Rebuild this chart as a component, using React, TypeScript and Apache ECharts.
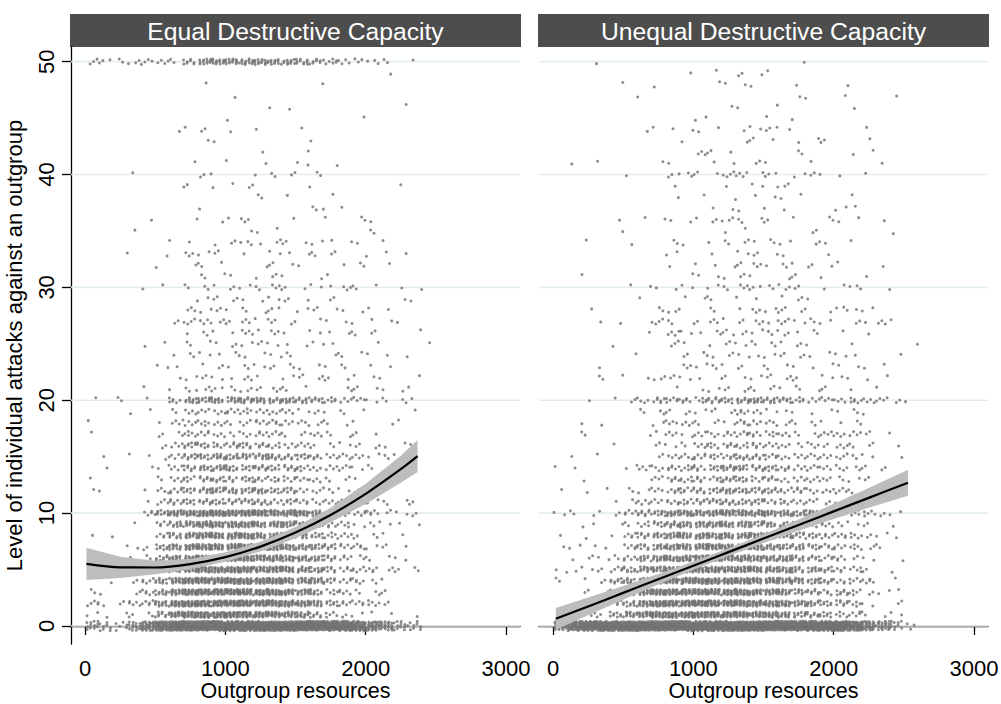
import React, { useEffect, useRef } from 'react';
import * as echarts from 'echarts';

const X_TICKS = [0, 1000, 2000, 3000];
const Y_TICKS = [0, 10, 20, 30, 40, 50];
const PANEL_TITLES = ['Equal Destructive Capacity', 'Unequal Destructive Capacity'];
const X_TITLE = 'Outgroup resources';
const Y_TITLE = 'Level of individual attacks against an outgroup';

// Observation counts read from the picture: one string per attack level (index = level 0..50),
// one character per 100-unit bin of outgroup resources (0-100, 100-200, ... 2500-2600).
// Character code: 0-9, a=10 ... z=35, A=36 ... Z=61.
const EQUAL_COUNTS = [
  'c86euHRRRRRRRRRRRRRHukc800',
  '21122ainpppnlihd8522110100',
  '51255dlprrrrpnlhd855520000',
  '21025ainppppnliea552220000',
  '01025ahlnnnnllied855210000',
  '000028eilllliihda855522200',
  '100128eillliiheda852212000',
  '000228dhiiiihheda855221000',
  '110005aehhhheeda8552211000',
  '000105aehhhheeda8552221100',
  '00005aeillllliihd855522200',
  '00001468888886664424221200',
  '11001468abaaa8844222100000',
  '10000246886866644221100000',
  '01001248aaa888864442210000',
  '01011248aaaaaa886444222200',
  '00000248866866442222211100',
  '10000225542454224212100000',
  '10000144542455442211011000',
  '00011024445544422121000100',
  '1020106aabbbbaaa8644222100',
  '00001013232323210022111100',
  '00000012221310222211110100',
  '00000210121222211120110000',
  '00000012212112200121111000',
  '00001102112222112100100010',
  '00000001211413102112200100',
  '00000024422313201111111000',
  '00000003221213022111110000',
  '00000000222112210200001100',
  '00001102212223212132101100',
  '00000000211012101100000000',
  '00000101210012110012010000',
  '00010103220102112200111000',
  '00000011012312212111010000',
  '00010000000111000000200000',
  '00001001011300100102100000',
  '00000000100000003010000000',
  '00000000000020100100000000',
  '00000002011200001000001000',
  '00010000300012202000000000',
  '00000001001010020100000000',
  '00000000000010010000000000',
  '00000000110000001000000000',
  '00000011201010010000000000',
  '00000000001000000001000000',
  '00000000000001100000001000',
  '00000000001000000000000000',
  '00000000100000001000000000',
  '00000000000000000000010000',
  '33234428ccecccaa8643320100',
];

const UNEQUAL_COUNTS = [
  'pHRRRRRRRRRRRRRRRRRRRHuka3',
  '00228dhlnnnnllihea88552120',
  '00105ahnppppnllihda8852020',
  '00225ahlnnnnllihea85852210',
  '20128aeilllllihheda8555010',
  '212258dehiiiihhedaa8552010',
  '012225adehiiiheeda85522010',
  '1202058aeehhheedaa85552200',
  '1010158adeeeeedda885552210',
  '00201258adddddaa8855222010',
  '2211258adeeehheedaa8855220',
  '00001244668888866442110000',
  '101102246688aa886644421000',
  '00100004666688664444222000',
  '110002446668aa886444422200',
  '01010002446668864444422010',
  '00001002224666644242422010',
  '00200011424455554224442100',
  '00110002442225442221120000',
  '00000022222225321111121000',
  '0010124666688aaa8644464421',
  '00000000101222221212010100',
  '00021013221021222202111100',
  '00010000032212021111111100',
  '00000100022122122211210010',
  '00001000310122221210010001',
  '00000010421232223120101000',
  '00011004202312314222021310',
  '00100002300201323201312000',
  '00000010011201101210000000',
  '00000111120223323201130100',
  '00100000011112101201001000',
  '00000000101112312121100100',
  '00000000200102211001000000',
  '00100100210122122021010000',
  '00001000000011000020000010',
  '00001011111232120102110100',
  '00000000000111011000210000',
  '00000000101001111100010000',
  '00000000100010203000000000',
  '00000100322144130221101000',
  '01010001100110210010000100',
  '00000000003210000200011000',
  '00000000010001210112001000',
  '00000011111101231000001000',
  '00000000002000010100000000',
  '00000000000011010000010000',
  '00000010000000000110100010',
  '00001001000111100100010000',
  '00000000010102110000000000',
  '00010000000000000100000000',
];

// Fitted curves and 95% band half-widths
const EQUAL_FIT_X = [10, 250, 500, 750, 1000, 1250, 1500, 1750, 2000, 2250, 2370];
const EQUAL_FIT_Y = [5.5, 5.19, 5.18, 5.48, 6.1, 7.03, 8.27, 9.83, 11.7, 13.89, 15.05];
const EQUAL_CI_HALF = [1.42, 0.95, 0.6, 0.45, 0.42, 0.43, 0.5, 0.65, 0.9, 1.2, 1.42];

const UNEQUAL_FIT_X = [20, 250, 500, 750, 1000, 1250, 1500, 1750, 2000, 2250, 2530];
const UNEQUAL_FIT_Y = [0.63, 1.73, 2.93, 4.14, 5.34, 6.54, 7.74, 8.94, 10.15, 11.35, 12.69];
const UNEQUAL_CI_HALF = [0.96, 0.78, 0.6, 0.46, 0.37, 0.34, 0.38, 0.5, 0.67, 0.88, 1.15];

const X_BIN = 100;
const JITTER = 0.5;
const JITTER_ZERO = 0.85;
const CODE = '0123456789abcdefghijklmnopqrstuvwxyzABCDEFGHIJKLMNOPQRSTUVWXYZ';

const FONT = '"Liberation Sans", Arial, Helvetica, sans-serif';
const GRID_COLOR = '#e3edf0';
const DOT_COLOR = '#707070';
const BAND_COLOR = '#bdbdbd';

const frac = (v: number) => v - Math.floor(v);

function cellsToPoints(rows: string[]): number[][] {
  const pts: number[][] = [];
  rows.forEach((row, level) => {
    const jit = level === 0 ? JITTER_ZERO : JITTER;
    for (let b = 0; b < row.length; b++) {
      const n = CODE.indexOf(row[b]);
      const cell = level * row.length + b;
      const ox = frac(cell * 0.41421356);
      const oy = frac(cell * 0.73205081);
      for (let i = 0; i < n; i++) {
        const fx = frac(ox + (i + 0.5) * 0.75487767);
        const fy = frac(oy + (i + 0.5) * 0.56984029);
        pts.push([b * X_BIN + fx * X_BIN, level + (fy - 0.5) * jit]);
      }
    }
  });
  return pts;
}

export default function App() {
  const ref = useRef<HTMLDivElement>(null);

  useEffect(() => {
    if (!ref.current) return;
    const chart = echarts.init(ref.current, undefined, { renderer: 'svg' });

    const panels = [
      { counts: EQUAL_COUNTS, fx: EQUAL_FIT_X, fy: EQUAL_FIT_Y, hw: EQUAL_CI_HALF },
      { counts: UNEQUAL_COUNTS, fx: UNEQUAL_FIT_X, fy: UNEQUAL_FIT_Y, hw: UNEQUAL_CI_HALF },
    ];
    const gridLeft = [71, 539];

    const grids = gridLeft.map((l) => ({
      left: l,
      top: 47,
      width: 449,
      height: 597,
      outerBoundsMode: 'none',
      containLabel: false,
    }));

    const xAxes = gridLeft.map((_, i) => ({
      type: 'value',
      gridIndex: i,
      min: -100,
      max: 3100,
      name: X_TITLE,
      nameLocation: 'middle',
      nameGap: 36,
      nameMoveOverlap: false,
      nameTextStyle: { fontSize: 21.5, color: '#000', fontFamily: FONT, lineHeight: 22 },
      axisLine: { show: true, lineStyle: { color: '#000', width: 1.3 } },
      axisTick: { show: true, length: 9, customValues: X_TICKS, lineStyle: { color: '#000', width: 1.3 } },
      axisLabel: {
        show: true,
        customValues: X_TICKS,
        fontSize: 22,
        lineHeight: 22,
        color: '#000',
        fontFamily: FONT,
        margin: 13,
        formatter: (v: number) => String(v),
      },
      splitLine: { show: false },
    }));

    const yAxes = gridLeft.map((_, i) => ({
      type: 'value',
      gridIndex: i,
      min: -1.6,
      max: 51.3,
      name: i === 0 ? Y_TITLE : '',
      nameLocation: 'middle',
      nameGap: 46,
      nameMoveOverlap: false,
      nameTextStyle: { fontSize: 22, color: '#000', fontFamily: FONT },
      axisLine: { show: i === 0, onZero: false, lineStyle: { color: '#000', width: 1.3 } },
      axisTick: { show: i === 0, length: 9, customValues: Y_TICKS, lineStyle: { color: '#000', width: 1.3 } },
      axisLabel: {
        show: i === 0,
        customValues: Y_TICKS,
        rotate: 90,
        fontSize: 22,
        color: '#000',
        fontFamily: FONT,
        margin: 14,
        formatter: (v: number) => String(v),
      },
      splitLine: { show: false },
    }));

    const series: any[] = [];
    panels.forEach((p, i) => {
      series.push({
        type: 'custom',
        xAxisIndex: i,
        yAxisIndex: i,
        z: 1,
        silent: true,
        data: Y_TICKS.map((v) => [0, v]),
        renderItem: (params: any, api: any) => {
          const y = api.coord([0, api.value(1)])[1];
          const cs = params.coordSys;
          return {
            type: 'line',
            shape: { x1: cs.x, y1: y, x2: cs.x + cs.width, y2: y },
            style: { stroke: GRID_COLOR, lineWidth: 1.6 },
          };
        },
      });
      series.push({
        type: 'scatter',
        xAxisIndex: i,
        yAxisIndex: i,
        z: 2,
        silent: true,
        progressive: 0,
        progressiveThreshold: 1000000,
        large: false,
        symbol: 'circle',
        symbolSize: 3,
        itemStyle: { color: DOT_COLOR },
        data: cellsToPoints(p.counts),
      });
      series.push({
        type: 'custom',
        xAxisIndex: i,
        yAxisIndex: i,
        z: 3,
        silent: true,
        data: p.fx.map((x, k) => [x, p.fy[k]]),
        renderItem: (params: any, api: any) => {
          if (params.dataIndex !== 0) return null;
          const upper = p.fx.map((x, k) => api.coord([x, p.fy[k] + p.hw[k]]));
          const lower = p.fx.map((x, k) => api.coord([x, p.fy[k] - p.hw[k]])).reverse();
          return {
            type: 'polygon',
            shape: { points: upper.concat(lower) },
            style: { fill: BAND_COLOR },
          };
        },
      });
      series.push({
        type: 'line',
        xAxisIndex: i,
        yAxisIndex: i,
        z: 4,
        silent: true,
        smooth: 0.3,
        showSymbol: false,
        symbol: 'none',
        lineStyle: { color: '#000', width: 2.2 },
        data: p.fx.map((x, k) => [x, p.fy[k]]),
      });
    });

    const graphic: any[] = [];
    gridLeft.forEach((l, i) => {
      graphic.push({
        type: 'rect',
        shape: { x: l - 1, y: 14, width: 451, height: 33 },
        style: { fill: '#4d4d4d' },
        silent: true,
      });
      graphic.push({
        type: 'text',
        x: l + 224.5,
        y: 31,
        style: {
          text: PANEL_TITLES[i],
          fill: '#ffffff',
          fontSize: 24.7,
          fontFamily: FONT,
          align: 'center',
          verticalAlign: 'middle',
        },
        silent: true,
      });
    });

    chart.setOption({
      animation: false,
      backgroundColor: '#ffffff',
      grid: grids,
      xAxis: xAxes,
      yAxis: yAxes,
      series,
      graphic,
    });

    return () => chart.dispose();
  }, []);

  return (
    <div
      ref={ref}
      style={{ position: 'absolute', left: 0, top: 0, width: 1001, height: 704 }}
    />
  );
}
